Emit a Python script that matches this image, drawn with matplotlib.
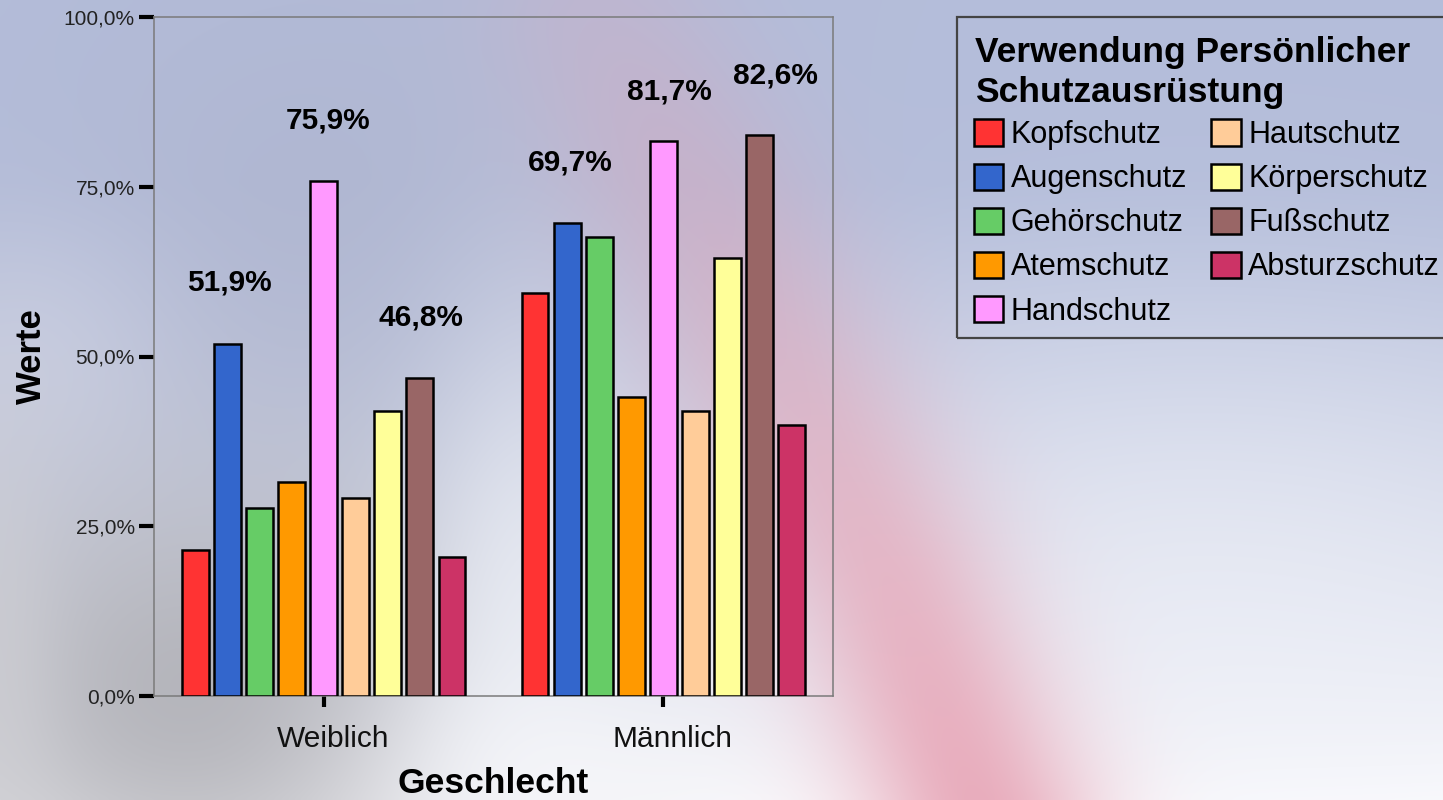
import numpy as np
import matplotlib
matplotlib.use('Agg')
import matplotlib.pyplot as plt
from matplotlib.patches import Patch, Rectangle
from matplotlib.transforms import ScaledTranslation

plt.rcParams['font.family'] = ['Liberation Sans', 'DejaVu Sans']

# ---------------- data ----------------
groups = ['Weiblich', 'Männlich']
categories = ['Kopfschutz', 'Augenschutz', 'Gehörschutz', 'Atemschutz', 'Handschutz',
              'Hautschutz', 'Körperschutz', 'Fußschutz', 'Absturzschutz']
weiblich = [21.5, 51.9, 27.7, 31.5, 75.9, 29.2, 42.0, 46.8, 20.5]
maennlich = [59.4, 69.7, 67.6, 44.0, 81.7, 42.0, 64.5, 82.6, 39.9]
colors = ['#FF3333', '#3366CC', '#66CC66', '#FF9900', '#FF99FF',
          '#FFCC99', '#FFFF99', '#996666', '#CC3366']
labeled = ['Augenschutz', 'Handschutz', 'Fußschutz']
yticks = [0, 25, 50, 75, 100]
ytick_labels = ['0,0%', '25,0%', '50,0%', '75,0%', '100,0%']
legend_title = ['Verwendung Persönlicher', 'Schutzausrüstung']

# label offsets in pixels (dx, dy) per group for labeled bars
label_offsets = {
    ('Weiblich', 'Augenschutz'): (2, 61), ('Weiblich', 'Handschutz'): (4, 60),
    ('Weiblich', 'Fußschutz'): (1, 61), ('Männlich', 'Augenschutz'): (3, 60),
    ('Männlich', 'Handschutz'): (6, 50), ('Männlich', 'Fußschutz'): (16, 60),
}

W_PX, H_PX, DPI = 1443, 800, 100
fig = plt.figure(figsize=(W_PX / DPI, H_PX / DPI), dpi=DPI)


def fx(px):
    return px / W_PX


def fy(py):
    return 1 - py / H_PX


# ---------------- blurred background ----------------
H, W = 200, 361
yy = np.linspace(0, H_PX, H)[:, None] * np.ones((1, W))
xx = np.linspace(0, W_PX, W)[None, :] * np.ones((H, 1))
top = np.array([180, 189, 218.0])
bot = np.array([250, 250, 253.0])
t = np.clip((yy - 180) / 620, 0, 1) ** 1.2
img = top[None, None, :] * (1 - t[..., None]) + bot[None, None, :] * t[..., None]


def blob(img, cx, cy, sx, sy, col, a):
    w = a * np.exp(-((xx - cx) ** 2 / (2 * sx ** 2) + (yy - cy) ** 2 / (2 * sy ** 2)))
    return img * (1 - w[..., None]) + np.array(col, float)[None, None, :] * w[..., None]


img = blob(img, 330, 230, 220, 200, (174, 180, 206), 0.65)
img = blob(img, 40, 390, 90, 110, (208, 212, 230), 0.6)
img = blob(img, 190, 700, 220, 170, (172, 172, 178), 0.85)
img = blob(img, 0, 700, 40, 200, (205, 205, 210), 0.6)
img = blob(img, 530, 650, 80, 220, (236, 239, 246), 0.75)
img = blob(img, 560, 790, 120, 80, (248, 248, 251), 0.7)
img = blob(img, 1200, 600, 300, 200, (240, 242, 248), 0.5)

# pink diagonal band
px = np.array([600, 700, 790, 890, 985])
py = np.array([0, 200, 380, 580, 820])
d = np.full(xx.shape, 1e9)
for i in range(len(px) - 1):
    ax_, ay_ = px[i], py[i]
    bx_, by_ = px[i + 1], py[i + 1]
    vx, vy = bx_ - ax_, by_ - ay_
    tt = np.clip(((xx - ax_) * vx + (yy - ay_) * vy) / (vx * vx + vy * vy), 0, 1)
    dd = np.hypot(xx - (ax_ + tt * vx), yy - (ay_ + tt * vy))
    d = np.minimum(d, dd)
alpha = (0.2 + 0.65 * np.clip(yy / 800, 0, 1)) * np.exp(-d ** 2 / (2 * 80 ** 2))
pink = np.array([230, 160, 178.0])
img = img * (1 - alpha[..., None]) + pink[None, None, :] * alpha[..., None]
img = np.clip(img / 255.0, 0, 1)

bg = fig.add_axes([0, 0, 1, 1], zorder=-10)
bg.imshow(img, aspect='auto', interpolation='bicubic', extent=[0, 1, 0, 1])
bg.set_axis_off()

# ---------------- main chart ----------------
ax = fig.add_axes([fx(154), fy(696), fx(833 - 154), (696 - 17) / H_PX])
ax.set_facecolor('none')

n = len(categories)
pitch = 0.0944
width = 0.079
group_x = np.arange(len(groups))
data = [weiblich, maennlich]
for gi, g in enumerate(groups):
    for ci, c in enumerate(categories):
        x = group_x[gi] + (ci - (n - 1) / 2) * pitch
        ax.bar(x, data[gi][ci], width=width, color=colors[ci], edgecolor='black',
               linewidth=1.8, zorder=3)
        if c in labeled:
            dx, dy = label_offsets[(g, c)]
            val = data[gi][ci]
            ax.annotate(f'{val:.1f}%'.replace('.', ','), xy=(x, val),
                        xytext=(dx * 72 / DPI, dy * 72 / DPI), textcoords='offset points',
                        ha='center', va='center', fontsize=21.5, fontweight='bold',
                        color='black', zorder=5)

ax.set_xlim(-0.5, 1.5)
ax.set_ylim(0, 100)
ax.set_yticks(yticks)
ax.set_yticklabels(ytick_labels)
ax.set_xticks(group_x)
ax.set_xticklabels(groups)
ax.tick_params(axis='y', length=10.8, width=3, color='black', pad=3,
               labelsize=15, labelcolor='#222222')
ax.tick_params(axis='x', length=8, width=3, color='black', pad=13,
               labelsize=21.5, labelcolor='#111111')
shift = ScaledTranslation(9 / DPI, 0, fig.dpi_scale_trans)
for lbl in ax.get_xticklabels():
    lbl.set_transform(lbl.get_transform() + shift)
for s in ax.spines.values():
    s.set_color('#7a7a7a')
    s.set_linewidth(1.1)

ax.set_xlabel('Geschlecht', fontsize=25.5, fontweight='bold', labelpad=10)
ax.set_ylabel('Werte', fontsize=25, fontweight='bold')
ax.yaxis.set_label_coords(-106 / 679, 0.5)

# ---------------- legend ----------------
fig.patches.append(Rectangle((fx(957), fy(338)), fx(1470 - 957), (338 - 17) / H_PX,
                             transform=fig.transFigure, facecolor='none',
                             edgecolor='#444444', linewidth=1.6, zorder=1))
fig.text(fx(975), fy(62), legend_title[0], fontsize=25.5, fontweight='bold',
         ha='left', va='baseline')
fig.text(fx(975), fy(102), legend_title[1], fontsize=25.5, fontweight='bold',
         ha='left', va='baseline')

handles = [Patch(facecolor=colors[i], edgecolor='black', linewidth=1.8, label=categories[i])
           for i in range(n)]
leg = fig.legend(handles=handles, ncol=2,
                 loc='center left', bbox_to_anchor=(fx(974), fy(223)),
                 fontsize=22, frameon=False,
                 handlelength=0.95, handleheight=0.95, handletextpad=0.25,
                 columnspacing=0.8, labelspacing=0.44, borderpad=0, borderaxespad=0)

fig.savefig('out.png', dpi=DPI)
